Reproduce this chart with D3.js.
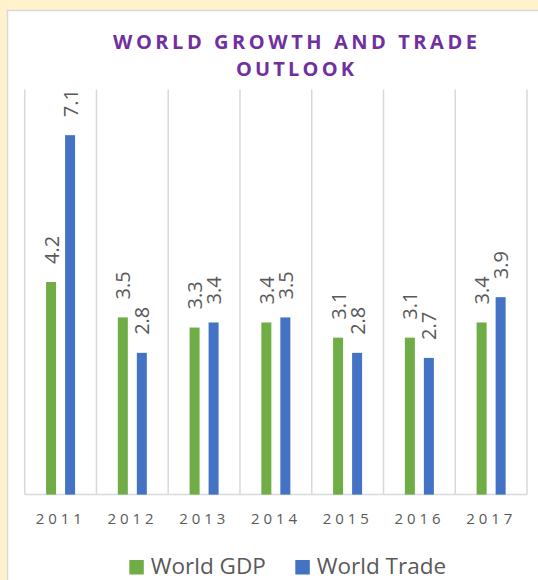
<!DOCTYPE html>
<html><head><meta charset="utf-8">
<script src="https://cdn.jsdelivr.net/npm/d3@7"></script>
<style>body{margin:0;background:#FFF2CC;} svg{display:block}</style></head><body>
<script>
const years = ["2011","2012","2013","2014","2015","2016","2017"];
const gdp = [4.2,3.5,3.3,3.4,3.1,3.1,3.4];
const trade = [7.1,2.8,3.4,3.5,2.8,2.7,3.9];
const seriesNames = ["World GDP","World Trade"];
const colors = ["#70AD47","#4472C4"];
const titleLines = ["WORLD GROWTH AND TRADE","OUTLOOK"];

const W = 538, H = 580;
const svg = d3.select("body").append("svg").attr("width", W).attr("height", H);
svg.append("rect").attr("width", W).attr("height", H).attr("fill", "#FFF2CC");
svg.append("rect").attr("x", 7.5).attr("y", 10.5).attr("width", 600).attr("height", 600)
  .attr("fill", "#fff").attr("stroke", "#D9D9D9").attr("stroke-width", 1.5);

const x = d3.scaleBand().domain(years).range([24.7, 527]);
const y = d3.scaleLinear().domain([0, 8]).range([494.6, 89.6]);
const bw = x.bandwidth();
const xs = d3.scaleBand().domain(seriesNames).range([bw/2 - 19, bw/2 + 19]);
const barW = 10;

// gridlines
const gridX = years.map(d => x(d)).concat([x.range()[1]]);
svg.append("g").selectAll("line").data(gridX).join("line")
  .attr("x1", d => d).attr("x2", d => d).attr("y1", y(8)).attr("y2", y(0))
  .attr("stroke", "#D9D9D9").attr("stroke-width", 1.5);
svg.append("line").attr("x1", x.range()[0]).attr("x2", x.range()[1])
  .attr("y1", y(0)).attr("y2", y(0)).attr("stroke", "#D9D9D9").attr("stroke-width", 1.5);

// title
svg.append("g").selectAll("text").data(titleLines).join("text")
  .attr("x", 295).attr("y", (d,i) => i ? 76 : 49)
  .attr("text-anchor", "middle")
  .attr("font-family", "Open Sans").attr("font-weight", "bold").attr("font-size", 20)
  .attr("fill", "#7030A0")
  .attr("textLength", (d,i) => i ? 118 : 364).attr("lengthAdjust", "spacing")
  .text(d => d);

const data = [];
years.forEach((yr, i) => {
  data.push({yr, s: seriesNames[0], v: gdp[i], c: colors[0]});
  data.push({yr, s: seriesNames[1], v: trade[i], c: colors[1]});
});

svg.append("g").selectAll("rect").data(data).join("rect")
  .attr("x", d => x(d.yr) + xs(d.s) + (xs.bandwidth() - barW)/2)
  .attr("y", d => y(d.v)).attr("width", barW).attr("height", d => y(0) - y(d.v))
  .attr("fill", d => d.c);

// value labels
svg.append("g").selectAll("text").data(data).join("text")
  .attr("transform", d => {
    const cx = x(d.yr) + xs(d.s) + xs.bandwidth()/2;
    const cy = y(d.v) - 18;
    return `translate(${cx},${cy}) rotate(-90)`;
  })
  .attr("text-anchor", "start").attr("dominant-baseline", "central")
  .attr("font-family", "Open Sans").attr("font-size", 20).attr("fill", "#595959")
  .text(d => d.v.toFixed(1));

// x labels
svg.append("g").selectAll("text").data(years).join("text")
  .attr("x", d => x(d) + bw/2 - 1.8).attr("y", 524)
  .attr("text-anchor", "middle")
  .attr("font-family", "Open Sans").attr("font-size", 15).attr("fill", "#595959")
  .attr("textLength", 46).attr("lengthAdjust", "spacing")
  .text(d => d);

// legend
const legX = [129.3, 295.3];
const lg = svg.append("g").selectAll("g").data(seriesNames).join("g");
lg.append("rect").attr("x", (d,i) => legX[i]).attr("y", 560).attr("width", 14.5).attr("height", 14.5)
  .attr("fill", (d,i) => colors[i]);
lg.append("text").attr("x", (d,i) => legX[i] + 21.5).attr("y", 574.3)
  .attr("font-family", "Open Sans").attr("font-size", 22.5).attr("fill", "#595959")
  .text(d => d);
</script>
</body></html>
